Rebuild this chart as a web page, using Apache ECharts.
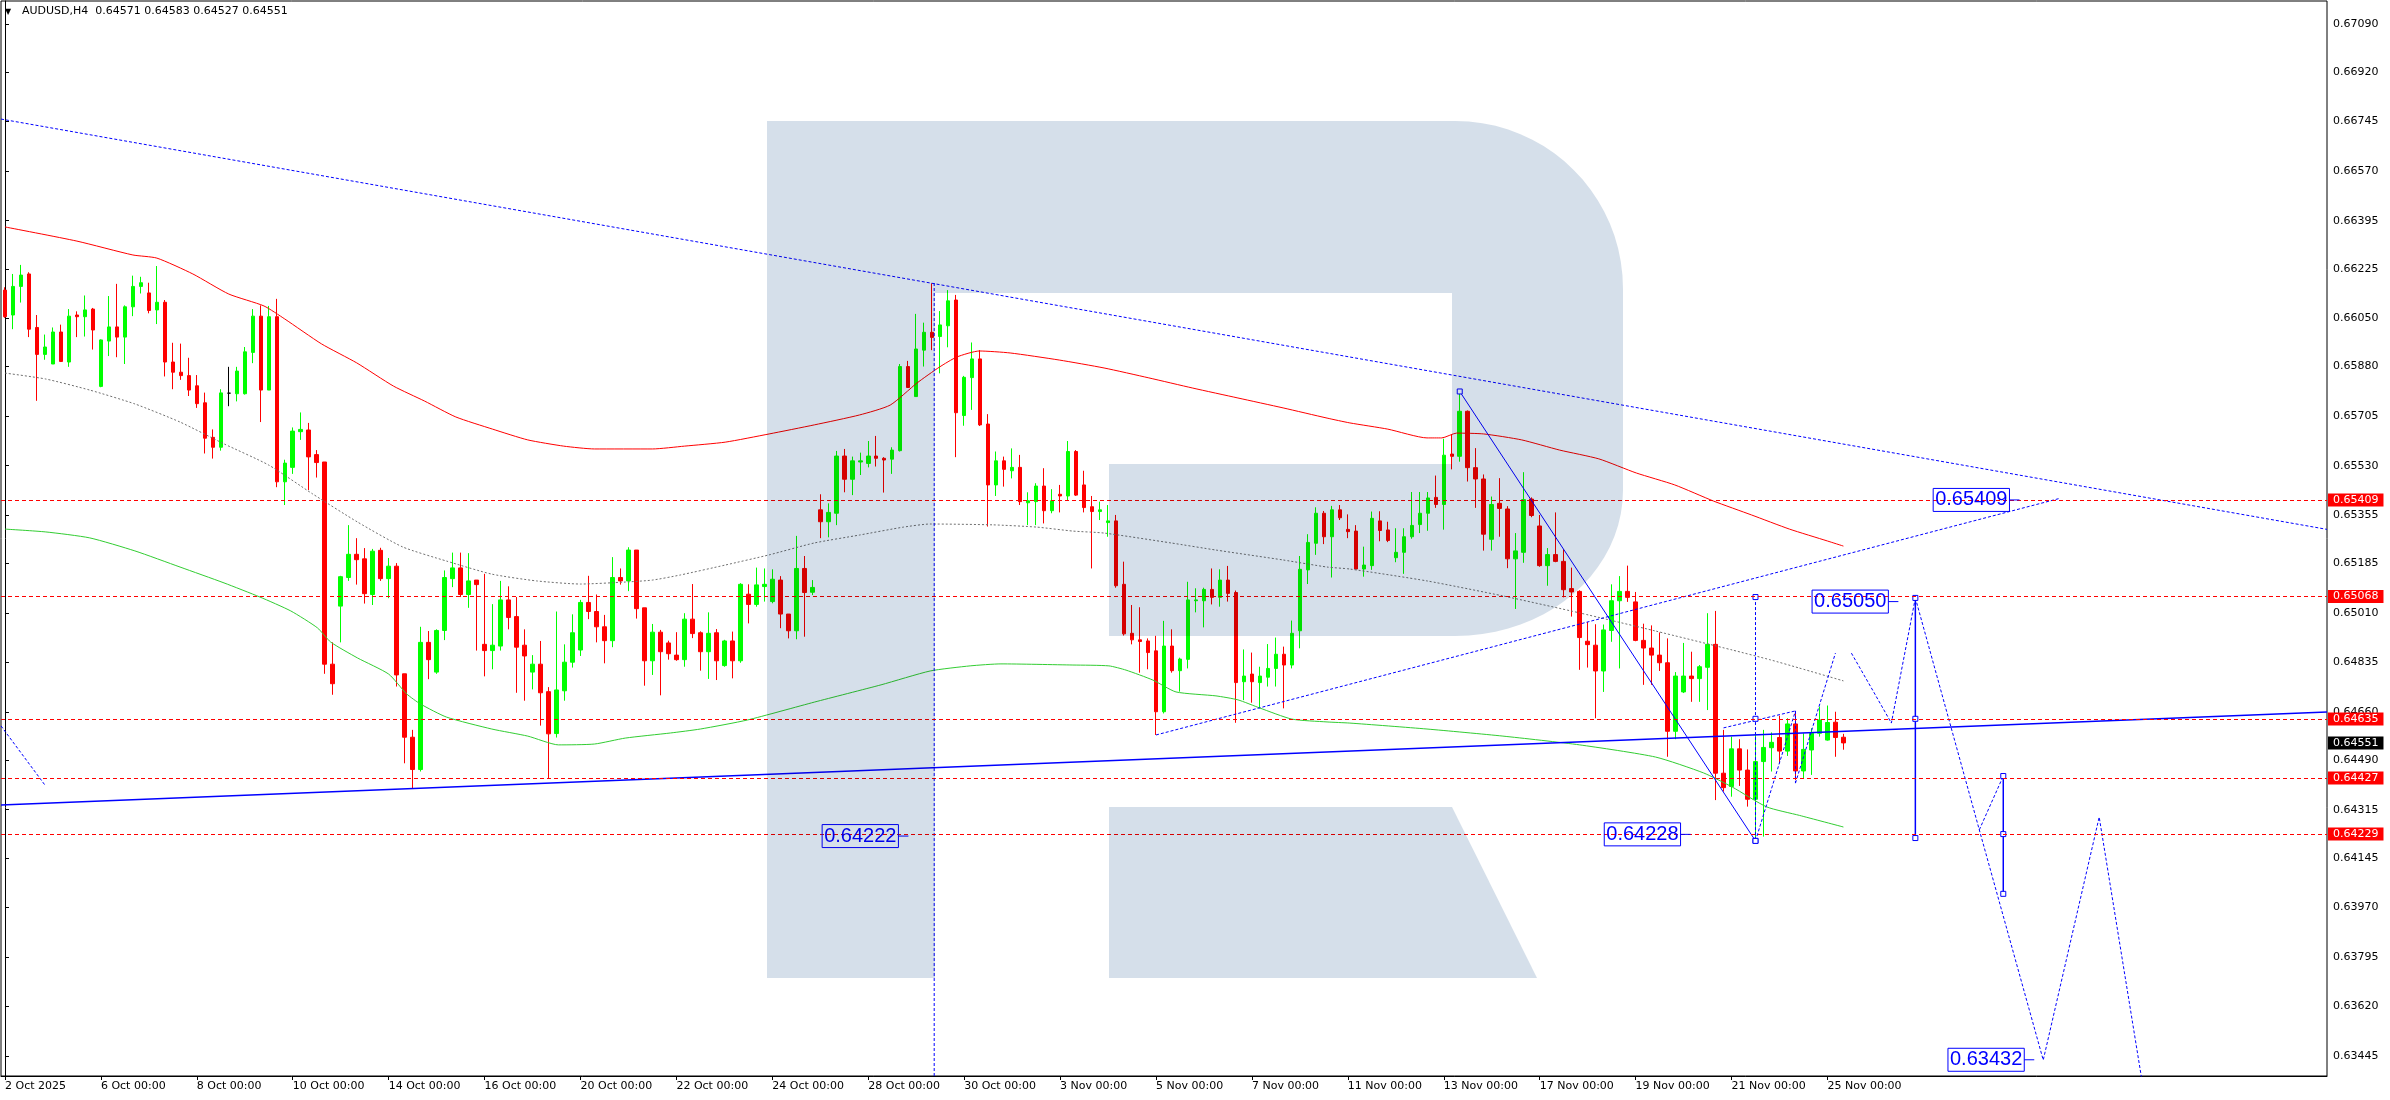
<!DOCTYPE html>
<html>
<head>
<meta charset="utf-8">
<script src="https://cdn.jsdelivr.net/npm/echarts@6/dist/echarts.min.js"></script>
<style>
html,body{margin:0;padding:0;background:#fff;}
#chart{width:2390px;height:1100px;}
</style>
</head>
<body>
<div id="chart"></div>
<script>
// ---------- categories ----------
const symbolName = 'AUDUSD,H4';
const firstLabel = '2 Oct 2025';
const tradingDays = ['2 Oct','3 Oct','6 Oct','7 Oct','8 Oct','9 Oct','10 Oct','13 Oct','14 Oct','15 Oct','16 Oct','17 Oct',
  '20 Oct','21 Oct','22 Oct','23 Oct','24 Oct','27 Oct','28 Oct','29 Oct','30 Oct','31 Oct','3 Nov','4 Nov','5 Nov',
  '6 Nov','7 Nov','10 Nov','11 Nov','12 Nov','13 Nov','14 Nov','17 Nov','18 Nov','19 Nov','20 Nov','21 Nov','24 Nov','25 Nov'];
const barHours = ['00:00','04:00','08:00','12:00','16:00','20:00'];
const futureBars = 60;
const xLabelBars = [0,12,24,36,48,60,72,84,96,108,120,132,144,156,168,180,192,204,216,228];

// ---------- OHLC (H4 bars) ----------
const openP = [
0.66150,0.66062,0.66163,0.66207,0.66018,0.65923,0.65889,0.66002,0.65896,0.66062,
0.66056,0.66083,0.65810,0.65970,0.66020,0.65984,0.66091,0.66163,0.66140,0.66080,
0.66107,0.65896,0.65860,0.65848,0.65812,0.65752,0.65630,0.65595,0.65786,0.65784,
0.65784,0.65930,0.66058,0.65797,0.66056,0.65473,0.65524,0.65650,0.65656,0.65569,
0.65543,0.64829,0.65034,0.65135,0.65217,0.65201,0.65075,0.65231,0.65131,0.65175,
0.64795,0.64571,0.64457,0.64906,0.64801,0.64948,0.65131,0.65169,0.65075,0.65126,
0.64899,0.64877,0.64893,0.65056,0.64997,0.64896,0.64801,0.64829,0.64732,0.64584,
0.64735,0.64836,0.64879,0.65047,0.65015,0.64961,0.64912,0.65135,0.65123,0.65232,
0.65028,0.64841,0.64942,0.64904,0.64861,0.64845,0.64988,0.64940,0.64873,0.64940,
0.64824,0.64911,0.64841,0.65076,0.65040,0.65103,0.65050,0.65126,0.65006,0.64947,
0.65167,0.65083,0.65374,0.65332,0.65362,0.65564,0.65482,0.65543,0.65538,0.65564,
0.65556,0.65553,0.65583,0.65880,0.65774,0.65938,0.66001,0.65986,0.66024,0.66115,
0.65707,0.65841,0.65907,0.65677,0.65462,0.65547,0.65512,0.65524,0.65399,0.65403,
0.65458,0.65371,0.65429,0.65423,0.65580,0.65462,0.65385,0.65368,0.65329,0.65335,
0.65111,0.64938,0.64915,0.64911,0.64876,0.64661,0.64893,0.64806,0.64846,0.65053,
0.65053,0.65093,0.65065,0.65126,0.65082,0.64767,0.64794,0.64764,0.64783,0.64814,
0.64864,0.64826,0.64947,0.65162,0.65256,0.65362,0.65279,0.65374,0.65305,0.65299,
0.65165,0.65177,0.65335,0.65303,0.65205,0.65224,0.65279,0.65322,0.65362,0.65418,
0.65393,0.65571,0.65563,0.65722,0.65523,0.65483,0.65270,0.65397,0.65377,0.65201,
0.65224,0.65412,0.65317,0.65177,0.65216,0.65192,0.65096,0.65086,0.64910,0.64896,
0.64805,0.64948,0.65053,0.65086,0.65049,0.64913,0.64886,0.64861,0.64834,0.64592,
0.64731,0.64787,0.64778,0.64818,0.64899,0.64444,0.64397,0.64530,0.64455,0.64352,
0.64485,0.64534,0.64570,0.64522,0.64618,0.64452,0.64526,0.64585,0.64561,0.64624,
0.64571];
const highP = [
0.66160,0.66207,0.66239,0.66213,0.66062,0.65993,0.66018,0.66028,0.66083,0.66075,
0.66131,0.66087,0.65976,0.66129,0.66172,0.66096,0.66201,0.66197,0.66176,0.66235,
0.66115,0.65964,0.65961,0.65911,0.65850,0.65788,0.65658,0.65800,0.65879,0.65879,
0.65949,0.66083,0.66096,0.66094,0.66119,0.65551,0.65665,0.65718,0.65681,0.65585,
0.65543,0.64906,0.65141,0.65320,0.65274,0.65239,0.65236,0.65240,0.65204,0.65186,
0.64795,0.64597,0.64961,0.64946,0.64952,0.65160,0.65223,0.65223,0.65221,0.65126,
0.65148,0.65041,0.65123,0.65104,0.65066,0.64952,0.64861,0.64911,0.64748,0.65015,
0.64899,0.65005,0.65056,0.65141,0.65075,0.65003,0.65207,0.65167,0.65242,0.65232,
0.65028,0.64971,0.64950,0.64912,0.64942,0.65009,0.65112,0.64945,0.65012,0.64953,
0.64915,0.64944,0.65115,0.65111,0.65170,0.65167,0.65164,0.65140,0.65006,0.65282,
0.65211,0.65126,0.65429,0.65397,0.65582,0.65589,0.65562,0.65576,0.65617,0.65635,
0.65560,0.65595,0.65889,0.65900,0.66066,0.66035,0.66174,0.66076,0.66150,0.66133,
0.65847,0.65965,0.65938,0.65712,0.65580,0.65562,0.65591,0.65568,0.65436,0.65468,
0.65521,0.65447,0.65462,0.65617,0.65585,0.65512,0.65423,0.65403,0.65391,0.65356,
0.65191,0.65038,0.65030,0.64920,0.64929,0.64982,0.64952,0.64852,0.65120,0.65097,
0.65099,0.65167,0.65164,0.65176,0.65089,0.64881,0.64870,0.64820,0.64900,0.64923,
0.64891,0.64983,0.65211,0.65288,0.65383,0.65370,0.65388,0.65391,0.65358,0.65320,
0.65244,0.65368,0.65369,0.65332,0.65309,0.65309,0.65437,0.65437,0.65437,0.65495,
0.65625,0.65641,0.65792,0.65725,0.65592,0.65499,0.65421,0.65486,0.65387,0.65292,
0.65507,0.65418,0.65356,0.65239,0.65365,0.65235,0.65170,0.65090,0.64978,0.64970,
0.64969,0.65111,0.65140,0.65177,0.65084,0.64972,0.64966,0.64941,0.64920,0.64801,
0.64904,0.64873,0.64826,0.65009,0.65017,0.64597,0.64573,0.64564,0.64528,0.64585,
0.64597,0.64588,0.64647,0.64638,0.64661,0.64585,0.64603,0.64679,0.64683,0.64661,
0.64583];
const lowP = [
0.66052,0.66012,0.66106,0.65984,0.65759,0.65904,0.65889,0.65896,0.65879,0.65984,
0.65986,0.65940,0.65807,0.65917,0.65913,0.65889,0.66058,0.66138,0.66068,0.66030,
0.65845,0.65800,0.65833,0.65776,0.65734,0.65573,0.65555,0.65583,0.65740,0.65757,
0.65781,0.65892,0.65684,0.65797,0.65454,0.65391,0.65501,0.65621,0.65444,0.65488,
0.64795,0.64721,0.64906,0.65123,0.65110,0.65043,0.65038,0.65123,0.65062,0.64750,
0.64479,0.64391,0.64450,0.64776,0.64795,0.64914,0.65101,0.65066,0.65028,0.64877,
0.64786,0.64811,0.64877,0.64952,0.64728,0.64700,0.64740,0.64612,0.64425,0.64570,
0.64700,0.64817,0.64858,0.64988,0.64906,0.64832,0.64889,0.65110,0.65087,0.64990,
0.64753,0.64791,0.64719,0.64845,0.64841,0.64820,0.64921,0.64806,0.64777,0.64773,
0.64820,0.64779,0.64834,0.64973,0.65032,0.65050,0.65044,0.64956,0.64920,0.64917,
0.64926,0.65073,0.65274,0.65277,0.65320,0.65436,0.65426,0.65497,0.65524,0.65527,
0.65435,0.65501,0.65580,0.65806,0.65774,0.65880,0.65938,0.65856,0.65948,0.65560,
0.65671,0.65727,0.65670,0.65315,0.65423,0.65456,0.65485,0.65391,0.65320,0.65320,
0.65326,0.65362,0.65365,0.65406,0.65423,0.65365,0.65167,0.65338,0.65279,0.65099,
0.64930,0.64899,0.64799,0.64811,0.64579,0.64655,0.64799,0.64732,0.64814,0.65012,
0.64959,0.65040,0.65032,0.65050,0.64622,0.64702,0.64693,0.64673,0.64750,0.64750,
0.64673,0.64814,0.64885,0.65112,0.65215,0.65253,0.65135,0.65338,0.65274,0.65165,
0.65138,0.65162,0.65263,0.65260,0.65189,0.65148,0.65272,0.65292,0.65300,0.65381,
0.65304,0.65517,0.65544,0.65474,0.65381,0.65230,0.65230,0.65279,0.65168,0.65024,
0.65187,0.65348,0.65173,0.65106,0.65189,0.65065,0.64997,0.64809,0.64817,0.64638,
0.64731,0.64908,0.64814,0.65049,0.64910,0.64756,0.64756,0.64805,0.64502,0.64564,
0.64727,0.64696,0.64696,0.64667,0.64349,0.64379,0.64361,0.64399,0.64326,0.64214,
0.64220,0.64450,0.64479,0.64505,0.64420,0.64426,0.64438,0.64573,0.64559,0.64502,
0.64527];
const closeP = [
0.66056,0.66163,0.66203,0.66012,0.65923,0.65949,0.66002,0.65898,0.66058,0.66056,
0.66080,0.66009,0.65974,0.66020,0.65984,0.66091,0.66163,0.66176,0.66078,0.66107,
0.65896,0.65860,0.65848,0.65797,0.65749,0.65627,0.65595,0.65787,0.65786,0.65864,
0.65932,0.66058,0.65797,0.66056,0.65473,0.65539,0.65652,0.65658,0.65561,0.65541,
0.64829,0.64760,0.65138,0.65217,0.65198,0.65078,0.65228,0.65131,0.65175,0.64791,
0.64571,0.64457,0.64906,0.64845,0.64948,0.65135,0.65169,0.65075,0.65123,0.65110,
0.64877,0.64896,0.65056,0.64994,0.64889,0.64858,0.64829,0.64728,0.64583,0.64738,
0.64836,0.64940,0.65047,0.65015,0.64961,0.64912,0.65135,0.65123,0.65232,0.65025,
0.64841,0.64942,0.64873,0.64866,0.64845,0.64988,0.64937,0.64873,0.64938,0.64841,
0.64911,0.64841,0.65111,0.65040,0.65109,0.65111,0.65129,0.65006,0.64947,0.65167,
0.65082,0.65100,0.65332,0.65365,0.65564,0.65482,0.65547,0.65547,0.65564,0.65556,
0.65550,0.65585,0.65880,0.65806,0.65942,0.66001,0.65983,0.66027,0.66112,0.65717,
0.65842,0.65907,0.65674,0.65462,0.65547,0.65517,0.65524,0.65403,0.65406,0.65458,
0.65371,0.65406,0.65423,0.65580,0.65426,0.65382,0.65368,0.65374,0.65335,0.65106,
0.64936,0.64915,0.64909,0.64870,0.64661,0.64893,0.64806,0.64847,0.65056,0.65056,
0.65093,0.65065,0.65126,0.65079,0.64764,0.64787,0.64767,0.64787,0.64814,0.64864,
0.64826,0.64938,0.65164,0.65259,0.65362,0.65279,0.65374,0.65346,0.65297,0.65165,
0.65179,0.65344,0.65301,0.65266,0.65224,0.65279,0.65319,0.65362,0.65416,0.65393,
0.65567,0.65563,0.65722,0.65523,0.65483,0.65288,0.65393,0.65379,0.65201,0.65229,
0.65410,0.65354,0.65177,0.65216,0.65192,0.65092,0.65084,0.64923,0.64898,0.64805,
0.64950,0.65053,0.65086,0.65065,0.64913,0.64886,0.64861,0.64834,0.64592,0.64787,
0.64787,0.64778,0.64820,0.64899,0.64444,0.64393,0.64530,0.64455,0.64352,0.64485,
0.64535,0.64553,0.64522,0.64618,0.64452,0.64528,0.64585,0.64632,0.64623,0.64570,
0.64551];

// ---------- indicator lines: [bar, price] ----------
const maRed = [[0,0.66373],[9,0.66323],[16,0.66274],[19,0.66263],[23.5,0.66207],[28,0.66136],[32.4,0.66094],[35,0.66048],
 [39.6,0.65960],[44,0.65893],[48.6,0.65811],[52.5,0.65758],[56.4,0.65702],[61,0.65659],[65.4,0.65621],[69.9,0.65599],
 [73.75,0.65589],[81,0.65589],[85,0.65599],[90.1,0.65613],[95.6,0.65642],[101.25,0.65674],[106.9,0.65709],[110.75,0.65744],
 [114.1,0.65822],[116.9,0.65878],[119.1,0.65914],[121.9,0.65935],[125.75,0.65928],[131.9,0.65903],[137.5,0.65875],
 [143.1,0.65840],[148.6,0.65804],[154.25,0.65769],[159.9,0.65734],[165.4,0.65698],[168.25,0.65681],[173,0.65659],
 [177.9,0.65628],[179.75,0.65628],[181.6,0.65645],[185,0.65642],[189.75,0.65621],[194.5,0.65585],[199.4,0.65554],
 [204.1,0.65504],[208.9,0.65462],[213.75,0.65405],[218.5,0.65356],[223.25,0.65306],[228,0.65264],[230,0.65246]];
const maGray = [[0,0.65857],[5.1,0.65836],[10.6,0.65797],[16.25,0.65748],[21.9,0.65684],[27.4,0.65607],[33,0.65532],
 [38.5,0.65430],[44.1,0.65331],[49.75,0.65243],[55.25,0.65193],[60.9,0.65147],[66.5,0.65123],[72,0.65112],[77.6,0.65119],
 [81,0.65126],[84.5,0.65144],[90.1,0.65179],[95.6,0.65215],[101.25,0.65257],[106.9,0.65285],[112.4,0.65313],[115.75,0.65324],
 [123.6,0.65321],[129.1,0.65313],[133.6,0.65299],[137.5,0.65292],[145.9,0.65257],[151.5,0.65232],[159.9,0.65197],
 [165.4,0.65172],[168.25,0.65165],[177.9,0.65123],[187.4,0.65070],[197,0.65010],[206.5,0.64946],[216.1,0.64879],
 [220.9,0.64844],[224.4,0.64816],[230,0.64770]];
const maGreen = [[0,0.65306],[5.1,0.65296],[10.6,0.65275],[16.25,0.65229],[21.9,0.65172],[27.4,0.65116],[31.9,0.65066],
 [35.75,0.65017],[39.1,0.64957],[40.75,0.64907],[44.1,0.64851],[48,0.64794],[50.25,0.64724],[52,0.64688],[55.25,0.64642],
 [60.9,0.64600],[65.4,0.64575],[69.25,0.64544],[73.75,0.64547],[77.6,0.64568],[83.25,0.64586],[87,0.64600],[92.9,0.64632],
 [101.25,0.64695],[109.6,0.64756],[115.75,0.64805],[120.75,0.64823],[124.6,0.64830],[133.6,0.64826],[138.1,0.64823],
 [140.25,0.64808],[143.6,0.64773],[146.5,0.64731],[151.5,0.64717],[154.25,0.64703],[157,0.64674],[161,0.64635],
 [165.4,0.64625],[168.25,0.64621],[177.9,0.64600],[187.4,0.64575],[197,0.64544],[206.5,0.64501],[212.5,0.64445],
 [216.1,0.64395],[220.4,0.64325],[224.5,0.64295],[230,0.64254]];

// ---------- drawn objects: [bar, price] ----------
const levelLines = [0.65409, 0.65068, 0.64635, 0.64427, 0.64229];
const lastPrice = 0.64551;
const yTicks = [0.63445,0.63620,0.63795,0.63970,0.64145,0.64315,0.64490,0.64660,0.64835,0.65010,0.65185,
  0.65355,0.65530,0.65705,0.65880,0.66050,0.66225,0.66395,0.66570,0.66745,0.66920,0.67090];
const supportLine = [[-0.5,0.64332],[290.5,0.64660]];
const resistLine = [[-0.5,0.66754],[290.5,0.65305]];
const risingLine = [[144,0.64579],[257,0.65414]];
const leftDotted = [[-0.5,0.64611],[5,0.64402]];
const peakVertical = [[116.25,0.66175],[116.25,0.63300]];
const swingLine = [[182,0.65792],[219,0.64205]];
const dottedMeasure = [[219,0.65066],[219,0.64636],[219,0.64205]];
const measureBars = [
  [[239,0.65063],[239,0.64636],[239,0.64215]],
  [[250,0.64434],[250,0.64229],[250,0.64018]]
];
const forecastPaths = [
  [[219,0.64205],[224,0.64664]],
  [[215,0.64604],[224,0.64664]],
  [[224,0.64664],[224,0.64409]],
  [[224,0.64409],[229,0.64868]],
  [[231,0.64868],[233.5,0.64745],[236,0.64621],[239,0.65063]],
  [[239,0.65063],[247,0.64244],[255,0.63431],[262,0.64289],[267.4,0.63350]],
  [[247,0.64244],[250,0.64434]]
];
const priceTags = [[112.4,0.64222],[210.25,0.64228],[236.25,0.65050],[251.4,0.65409],[253.25,0.63432]];

// ---------- build ----------
const nBars = openP.length;
const categories = [];
for (const d of tradingDays) for (const h of barHours) if (categories.length < nBars) categories.push(d + ' ' + h);
while (categories.length < nBars + futureBars) categories.push('');
const labelSet = new Set(xLabelBars);
const candleData = openP.map((o, i) => [o, closeP[i], lowP[i], highP[i]]);
const last = nBars - 1;
const header = symbolName + '  ' + [openP[last], highP[last], lowP[last], closeP[last]].map(v => v.toFixed(5)).join(' ');

const BLUE = '#0000ff';
const FONT = 'DejaVu Sans';
const lineSeries = (data, style, extra) => Object.assign({
  type: 'line', xAxisIndex: 1, yAxisIndex: 0, data: data, showSymbol: false, silent: true,
  animation: false, lineStyle: style, z: 3
}, extra || {});
const markerOpts = {showSymbol: true, symbol: 'rect', symbolSize: 5,
  itemStyle: {color: '#ffffff', borderColor: BLUE, borderWidth: 1}};

const series = [];
series.push({
  type: 'candlestick', xAxisIndex: 0, yAxisIndex: 0, data: candleData, barWidth: 4, silent: true, animation: false,
  itemStyle: {color: '#00ff00', color0: '#ff0000', borderColor: '#00ff00', borderColor0: '#ff0000',
    borderColorDoji: '#000000', borderWidth: 1},
  markLine: {
    symbol: ['none', 'none'], silent: true, animation: false, precision: 5,
    lineStyle: {color: '#ff0000', type: [4, 3], width: 1},
    label: {show: true, position: 'end', distance: 1, formatter: p => Number(p.value).toFixed(5),
      color: '#ffffff', backgroundColor: '#ff0000', padding: [1, 5, 0, 5], fontFamily: FONT, fontSize: 11, lineHeight: 12},
    data: levelLines.map(v => ({yAxis: v})).concat([{yAxis: lastPrice,
      lineStyle: {color: 'rgba(0,0,0,0)', width: 0}, label: {backgroundColor: '#000000', color: '#ffffff'}}])
  }
});
series.push(lineSeries(maRed, {color: '#ff0000', width: 1}, {smooth: 0.2}));
series.push(lineSeries(maGreen, {color: '#32cd32', width: 1}, {smooth: 0.2}));
series.push(lineSeries(maGray, {color: '#707070', width: 1, type: [2, 2]}, {smooth: 0.2}));
series.push(lineSeries(supportLine, {color: BLUE, width: 1.5}));
series.push(lineSeries(resistLine, {color: BLUE, width: 1, type: [3, 2]}));
series.push(lineSeries(risingLine, {color: BLUE, width: 1, type: [3, 2]}));
series.push(lineSeries(leftDotted, {color: BLUE, width: 1, type: [3, 2]}));
series.push(lineSeries(peakVertical, {color: BLUE, width: 1, type: [3, 2]}));
series.push(lineSeries(swingLine, {color: BLUE, width: 1}, markerOpts));
series.push(lineSeries(dottedMeasure, {color: BLUE, width: 1, type: [3, 2]}, markerOpts));
measureBars.forEach(m => series.push(lineSeries(m, {color: BLUE, width: 1.5}, markerOpts)));
forecastPaths.forEach(f => series.push(lineSeries(f, {color: BLUE, width: 1, type: [3, 2]})));
series.push({
  type: 'scatter', xAxisIndex: 1, yAxisIndex: 0, data: priceTags, symbol: 'rect', symbolSize: [10, 1],
  silent: true, animation: false, z: 5, itemStyle: {color: BLUE, opacity: 1},
  label: {show: true, position: 'left', distance: 0, formatter: p => p.value[1].toFixed(5),
    fontFamily: 'Liberation Sans', fontSize: 20, color: BLUE, borderColor: BLUE, borderWidth: 1,
    padding: [1, 2, 1, 2], lineHeight: 21}
});

// ---------- watermark logo (decoration, pixel space) ----------
function bez(p0, p1, p2, p3, n) {
  const out = [];
  for (let k = 1; k <= n; k++) {
    const t = k / n, u = 1 - t;
    out.push([u*u*u*p0[0] + 3*u*u*t*p1[0] + 3*u*t*t*p2[0] + t*t*t*p3[0],
              u*u*u*p0[1] + 3*u*u*t*p1[1] + 3*u*t*t*p2[1] + t*t*t*p3[1]]);
  }
  return out;
}
const wmMain = [[767,121],[1455,121]]
  .concat(bez([1455,121],[1548,121],[1623,196],[1623,289],20))
  .concat([[1623,490]])
  .concat(bez([1623,490],[1623,571],[1548,636],[1455,636],20))
  .concat([[1109,636],[1109,464],[1452,464],[1452,293],[935,293],[935,978],[767,978]]);
const wmLeg = [[1109,807],[1452,807],[1537,978],[1109,978]];

const chart = echarts.init(document.getElementById('chart'), null, {renderer: 'canvas'});
chart.setOption({
  backgroundColor: '#ffffff',
  animation: false,
  textStyle: {fontFamily: FONT},
  title: [
    {text: '\u25BC', left: 5, top: 8, padding: 0, textStyle: {fontFamily: FONT, fontSize: 8, fontWeight: 'normal', color: '#000'}},
    {text: header, left: 22, top: 6, padding: 0, textStyle: {fontFamily: FONT, fontSize: 11, fontWeight: 'normal', color: '#000'}}
  ],
  grid: {left: 1, right: 63, top: 1, bottom: 24, show: true, borderColor: '#000', borderWidth: 1, backgroundColor: '#ffffff'},
  xAxis: [
    {type: 'category', data: categories, boundaryGap: true,
      axisLine: {show: true, lineStyle: {color: '#000', width: 1}},
      axisTick: {show: true, alignWithLabel: true, length: 4, interval: i => labelSet.has(i), lineStyle: {color: '#000'}},
      axisLabel: {show: true, interval: i => labelSet.has(i), formatter: (v, i) => (i === 0 ? firstLabel : v),
        align: 'left', margin: 5, fontFamily: FONT, fontSize: 11, color: '#000'},
      splitLine: {show: false}},
    {type: 'value', min: -0.5, max: nBars + futureBars - 0.5, show: false}
  ],
  yAxis: [{
    type: 'value', position: 'right', min: 0.633747, max: 0.671709, scale: true,
    splitLine: {show: false},
    axisLine: {show: true, lineStyle: {color: '#000', width: 1}},
    axisTick: {show: true, length: 4, customValues: yTicks, lineStyle: {color: '#000'}},
    axisLabel: {show: true, customValues: yTicks, formatter: v => Number(v).toFixed(5), margin: 6,
      fontFamily: FONT, fontSize: 11, color: '#000'}
  }],
  graphic: [
    {type: 'polygon', z: 50, silent: true, shape: {points: wmMain}, style: {fill: '#d5dfea', blend: 'multiply'}},
    {type: 'polygon', z: 50, silent: true, shape: {points: wmLeg}, style: {fill: '#d5dfea', blend: 'multiply'}}
  ],
  series: series
});
</script>
</body>
</html>
